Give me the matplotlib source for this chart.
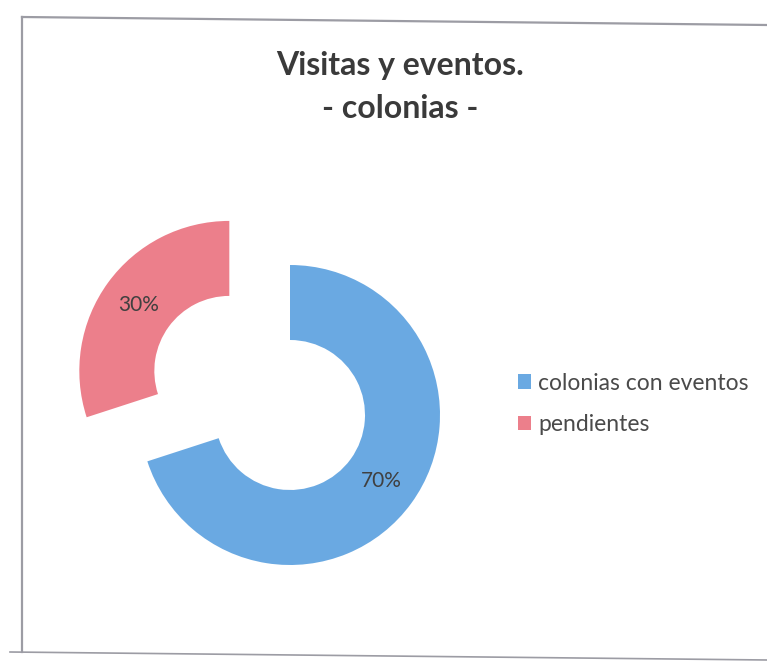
import matplotlib
matplotlib.use("Agg")
import matplotlib.pyplot as plt

categories = ["colonias con eventos", "pendientes"]
values = [70, 30]
colors = ["#6aa9e2", "#ec7f8b"]
title_lines = ["Visitas y eventos.", "- colonias -"]

W, H = 767, 662
fig = plt.figure(figsize=(W / 100, H / 100), dpi=100)
ax = fig.add_axes([0, 0, 1, 1])
ax.set_xlim(0, W)
ax.set_ylim(0, H)
ax.set_aspect("equal")
ax.axis("off")

R = 150
wedges, texts, autotexts = ax.pie(
    values, colors=colors, startangle=90, counterclock=False,
    center=(290, H - 415), radius=R, explode=[0, 75],
    autopct="%1.0f%%", pctdistance=0.75,
    wedgeprops=dict(width=75, edgecolor="none"),
    textprops=dict(fontsize=15, color="#404040", family="Lato"),
    frame=True,
)
ax.set_xlim(0, W)
ax.set_ylim(0, H)
ax.axis("off")

# frame border (scanned, slightly tilted)
bc = "#9c9ca4"
ax.plot([22, 767], [H - 17, H - 25], color=bc, lw=1.6)
ax.plot([22, 22], [H - 17, H - 652], color=bc, lw=1.6)
ax.plot([10, 767], [H - 652, H - 660], color=bc, lw=1.2)

ax.text(400, H - 66, title_lines[0], ha="center", va="center", fontsize=23,
        fontweight="bold", color="#3a3a3a", family="Lato")
ax.text(400, H - 108, title_lines[1], ha="center", va="center", fontsize=23,
        fontweight="bold", color="#3a3a3a", family="Lato")

leg = ax.legend(wedges, categories, loc="upper left",
                bbox_to_anchor=(497 / W, 1 - 352 / H), frameon=False,
                handlelength=0.6, handleheight=0.6, handletextpad=0.3,
                labelspacing=0.9, prop=dict(family="Lato", size=16.5))
for t in leg.get_texts():
    t.set_color("#4a4a4a")

fig.savefig("out.png", dpi=100, facecolor="white")
